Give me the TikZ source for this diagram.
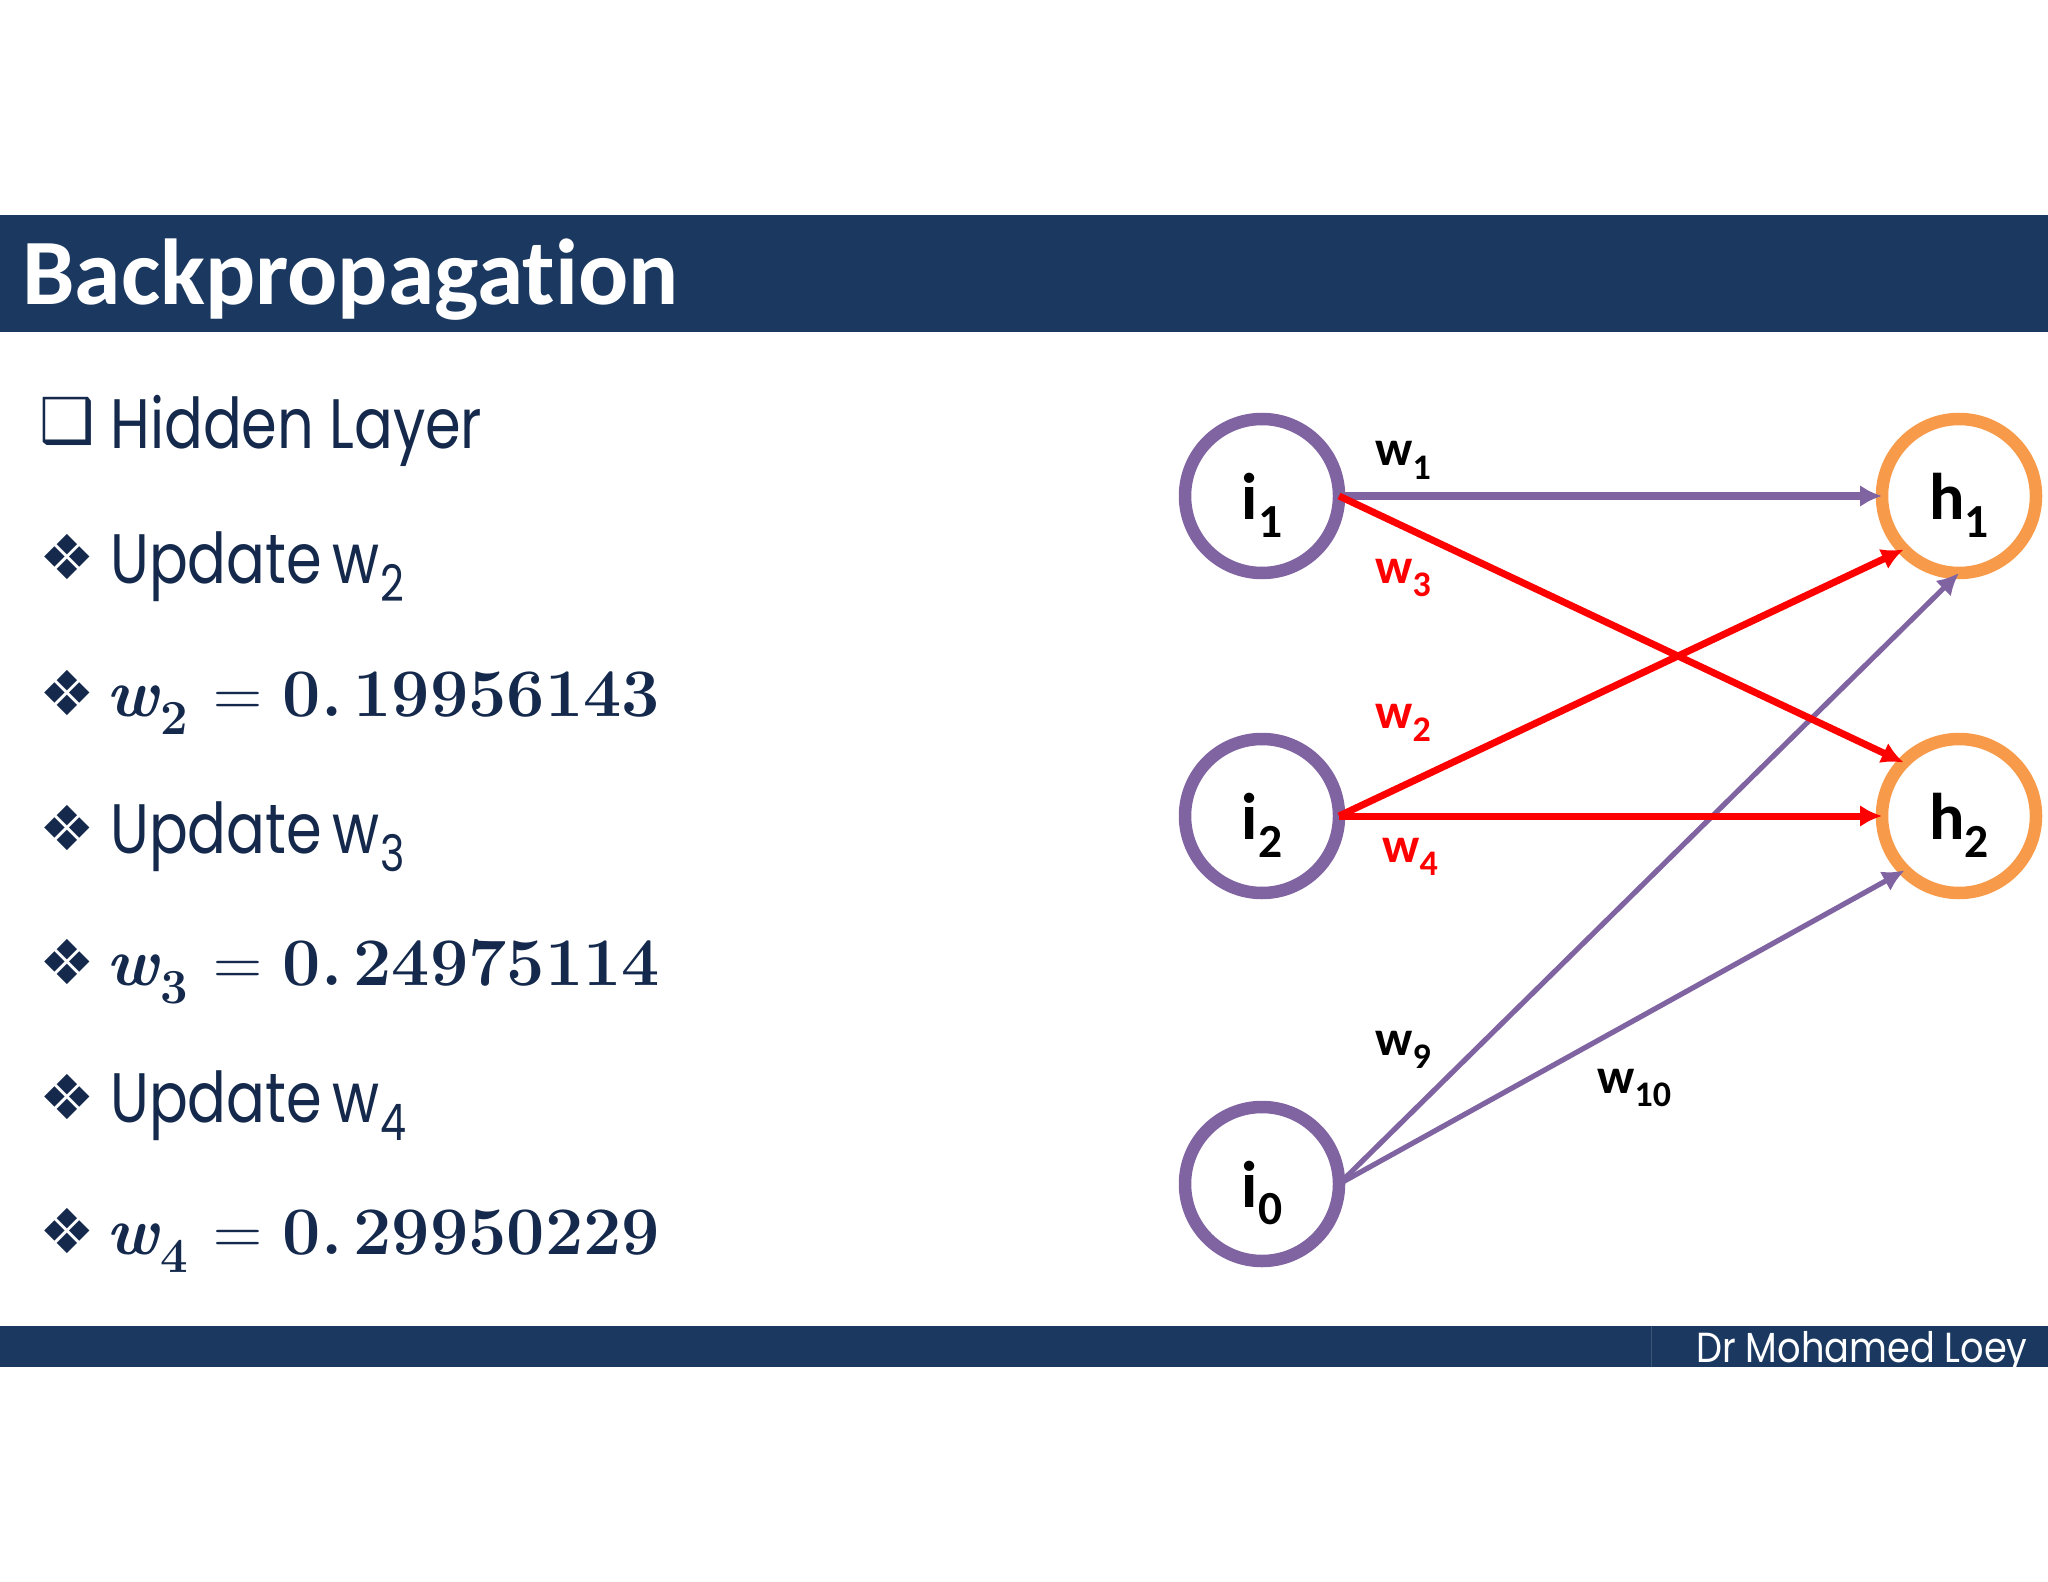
\documentclass[tikz,border=0pt]{standalone}
\usepackage{fontspec}
\usetikzlibrary{arrows.meta}
\newfontfamily\titlefont[Ligatures=NoCommon]{Carlito}
\newfontfamily\bodyfont[FakeStretch=.82]{Poppins}
\newfontfamily\footfont[FakeStretch=.875]{Poppins}
\newfontfamily\symfont{DejaVu Sans}
\definecolor{barblue}{HTML}{1A3860}
\definecolor{inkblue}{HTML}{14294B}
\definecolor{nodepurple}{HTML}{8064A2}
\definecolor{nodeorange}{HTML}{F79B4B}
\newcommand{\lowsub}[2]{#1\raisebox{-.27em}{\scalebox{.72}{#2}}}
\newcommand{\nlabel}[2]{\raisebox{-4.5pt}[\height][\depth]{\lowsub{#1}{#2}}}
\newcommand{\weqn}[2]{\lowsub{\textbf{\textit{w}}}{\textbf{#1}}\kern2.5pt{} = \textbf{0.\,#2}}
\newcommand{\upd}[1]{Update\kern-2.5pt{} \lowsub{w}{\kern1pt#1}}
\tikzset{
  neuron/.style={circle,line width=6.25pt,minimum size=77pt,inner sep=0pt,outer sep=0pt,fill=white,font=\titlefont\fontsize{33}{36}\selectfont\bfseries},
  inneuron/.style={neuron,draw=nodepurple},
  outneuron/.style={neuron,draw=nodeorange},
  wlabel/.style={anchor=base west,inner sep=0pt,font=\titlefont\fontsize{25}{30}\selectfont\bfseries},
  bodytext/.style={anchor=base west,inner sep=0pt,text=inkblue,font=\bodyfont\fontsize{35}{42}\selectfont},
  eqntext/.style={anchor=base west,inner sep=0pt,text=inkblue,font=\fontsize{34}{42}\selectfont},
  bullet/.style={anchor=base west,inner sep=0pt,text=inkblue,font=\symfont\fontsize{31}{34}\selectfont},
  thinlink/.style={draw=nodepurple,line width=2.6pt,-{Latex[length=11pt,width=11pt]}},
  widelink/.style={draw=nodepurple,line width=3.6pt,-{Latex[length=11pt,width=11pt]}},
  redlink/.style={draw=red,line width=3.5pt,-{Latex[length=11pt,width=11pt]}}
}
\begin{document}
\begin{tikzpicture}[x=.5pt,y=-.5pt]
  \useasboundingbox (0,0) rectangle (2048,1582);

  % bars
  \fill[barblue] (0,215) rectangle (2048,332);
  \fill[barblue] (0,1326) rectangle (2048,1367);
  \draw[barblue!85!white,line width=.5pt] (1651,1326) -- (1651,1367);
  \node[anchor=base west,inner sep=0pt,text=white,font=\titlefont\fontsize{46.8}{50}\selectfont\bfseries] (title) at (22,305) {Backpropagation};
  \node[anchor=base east,inner sep=0pt,text=white,font=\footfont\fontsize{21}{25}\selectfont] (footer) at (2028,1362) {Dr Mohamed Loey};

  % list on the left
  \node[bullet] (b0) at (39,443) {\symbol{"2751}};
  \foreach \n/\y in {1/580,2/715,3/850,4/984,5/1119,6/1253}
    \node[bullet] (b\n) at (39,\y) {\symbol{"2756}};
  \node[bodytext] (head) at (110,449) {Hidden Layer};
  \node[bodytext] (upa) at (110,583) {\upd{2}};
  \node[eqntext] (eqa) at (106,716) {\weqn{2}{19956143}};
  \node[bodytext] (upb) at (110,853) {\upd{3}};
  \node[eqntext] (eqb) at (106,985) {\weqn{3}{24975114}};
  \node[bodytext] (upc) at (110,1122) {\upd{4}};
  \node[eqntext] (eqc) at (106,1254) {\weqn{4}{29950229}};

  % network
  \node[inneuron] (i1) at (1262,496) {\nlabel{i}{1}};
  \node[inneuron] (i2) at (1262,816) {\nlabel{i}{2}};
  \node[inneuron] (i0) at (1262,1184) {\nlabel{i}{0}};
  \node[outneuron] (h1) at (1959,496) {\nlabel{h}{1}};
  \node[outneuron] (h2) at (1959,816) {\nlabel{h}{2}};

  \draw[thinlink] (i0.east) -- (h1.south);
  \draw[thinlink] (i0.east) -- (h2.225);
  \draw[widelink] (i1.east) -- (h1.west);
  \draw[redlink] (i1.east) -- (h2.136);
  \draw[redlink] (i2.east) -- (h1.224);
  \draw[redlink] (i2.east) -- (h2.west);

  \node[wlabel] (w1) at (1375,466) {\lowsub{w}{1}};
  \node[wlabel,text=red] (w3) at (1375,583) {\lowsub{w}{3}};
  \node[wlabel,text=red] (w2) at (1375,728) {\lowsub{w}{2}};
  \node[wlabel,text=red] (w4) at (1382,862) {\lowsub{w}{4}};
  \node[wlabel] (w9) at (1375,1055) {\lowsub{w}{9}};
  \node[wlabel] (w10) at (1597,1093) {\lowsub{w}{10}};
\end{tikzpicture}
\end{document}
